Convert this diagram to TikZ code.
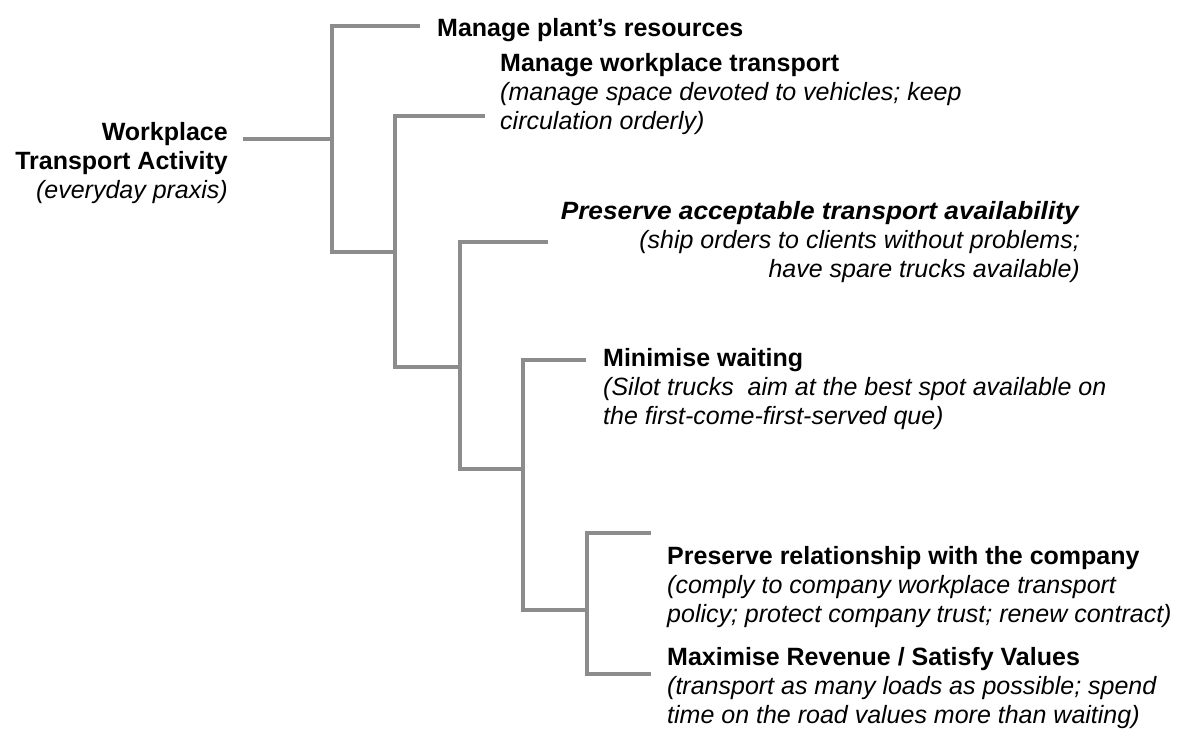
\documentclass[tikz,border=0pt]{standalone}
\usepackage{graphicx}
\usepackage{fontspec}
\setmainfont{Liberation Sans}
\begin{document}
\begin{tikzpicture}[x=1pt,y=-1pt,
  conn/.style={draw=black!45, line width=4pt},
  lbl/.style={inner sep=0pt, font=\fontsize{25}{29}\selectfont},
]
\useasboundingbox (0,0) rectangle (1180,729);
% text nodes
\node[lbl, anchor=north east, align=right] (root) at (228,122)
  {\textbf{Workplace}\\\textbf{Transport Activity}\\\textit{(everyday praxis)}};
\node[lbl, anchor=north west, align=left] (n1) at (437,18)
  {\textbf{Manage plant’s resources}};
\node[lbl, anchor=north west, align=left] (n2) at (500,53)
  {\textbf{Manage workplace transport}\\\textit{(manage space devoted to vehicles; keep}\\\textit{circulation orderly)}};
\node[lbl, anchor=north east, align=right] (n3) at (1080,201)
  {\scalebox{1.05}[1]{\textbf{\textit{Preserve acceptable transport availability}}}\\\textit{(ship orders to clients without problems;}\\\textit{have spare trucks available)}};
\node[lbl, anchor=north west, align=left] (n4) at (603,348)
  {\textbf{Minimise waiting}\\\textit{(Silot trucks\ \ aim at the best spot available on}\\\textit{the first-come-first-served que)}};
\node[lbl, anchor=north west, align=left] (n5) at (667,546)
  {\textbf{Preserve relationship with the company}\\\textit{(comply to company workplace transport}\\\textit{policy; protect company trust; renew contract)}};
\node[lbl, anchor=north west, align=left] (n6) at (667,647)
  {\textbf{Maximise Revenue / Satisfy Values}\\\textit{(transport as many loads as possible; spend}\\\textit{time on the road values more than waiting)}};
% connector coordinates
\coordinate (r0) at (243,139);
\coordinate (r1) at (332,139);
\coordinate (b1t) at (420,26);
\coordinate (b1b) at (395,252);
\coordinate (b2t) at (485,116);
\coordinate (b2b) at (460,367);
\coordinate (b3t) at (548,242);
\coordinate (b3b) at (523,469);
\coordinate (b4t) at (586,360);
\coordinate (b4b) at (587,610);
\coordinate (b5t) at (651,533);
\coordinate (b5b) at (651,674);
% connectors
\draw[conn] (r0) -- (r1);
\draw[conn] (b1t) -- (332,26) -- (332,252) -- (b1b);
\draw[conn] (b2t) -- (395,116) -- (395,367) -- (b2b);
\draw[conn] (b3t) -- (460,242) -- (460,469) -- (b3b);
\draw[conn] (b4t) -- (523,360) -- (523,610) -- (b4b);
\draw[conn] (b5t) -- (587,533) -- (587,674) -- (b5b);
\end{tikzpicture}
\end{document}
